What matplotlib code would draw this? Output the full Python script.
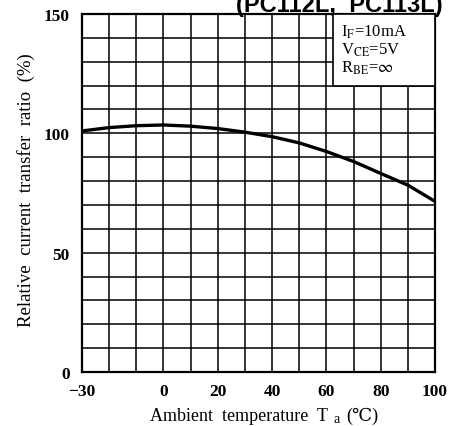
import matplotlib
matplotlib.use("Agg")
import matplotlib.pyplot as plt
from matplotlib.patches import Rectangle

# Ambient temperature (deg C) and relative current transfer ratio (%)
temperature = [-30, -20, -10, 0, 10, 20, 30, 40, 50, 60, 70, 80, 90, 100]
ctr_ratio = [101.0, 102.4, 103.2, 103.5, 103.0, 102.0, 100.5, 98.6, 96.0, 92.4, 88.2, 83.2, 78.3, 71.5]

x_major = [-30, 0, 20, 40, 60, 80, 100]
x_labels = ["\u221230", "0", "20", "40", "60", "80", "100"]
y_major = [0, 50, 100, 150]
y_labels = ["0", "50", "100", "150"]

conditions = [r"I$_{\mathrm{F}}$=10mA", r"V$_{\mathrm{CE}}$=5V", r"R$_{\mathrm{BE}}$=$\infty$"]

plt.rcParams["mathtext.fontset"] = "stix"
serif = ["Liberation Serif", "DejaVu Serif", "DejaVu Sans"]

W, H = 449, 427
fig = plt.figure(figsize=(W / 100, H / 100), dpi=100)
ax = fig.add_axes([82 / W, 1 - 373 / H, (435 - 82) / W, (373 - 15) / H])

ax.set_xlim(-30, 100)
ax.set_ylim(0, 150)
ax.set_xticks(x_major)
ax.set_xticklabels(x_labels)
ax.set_xticks(range(-30, 101, 10), minor=True)
ax.set_yticks(y_major)
ax.set_yticklabels(y_labels)
ax.set_yticks(range(0, 151, 10), minor=True)
ax.grid(True, which="both", color="black", linewidth=1.1)
ax.set_axisbelow(True)
ax.tick_params(which="both", length=0)
ax.tick_params(axis="x", pad=8)
ax.tick_params(axis="y", pad=9)
for lab in ax.get_xticklabels() + ax.get_yticklabels():
    lab.set_fontfamily(serif)
    lab.set_fontweight("bold")
    lab.set_fontsize(12.5)
for s in ax.spines.values():
    s.set_linewidth(1.6)
    s.set_color("black")

ax.plot(temperature, ctr_ratio, color="black", linewidth=2.4, zorder=3, solid_capstyle="butt")

# Measurement conditions box in the upper right corner
ax.add_patch(Rectangle((62.5, 120), 37.5, 30, facecolor="white", edgecolor="black",
                       linewidth=1.2, zorder=4))
for i, txt in enumerate(conditions):
    ax.text(65.3, 141.0 - i * 7.5, txt, fontsize=12, family=serif, va="baseline",
            ha="left", zorder=5)

# Axis titles
fig.text(26 / W, 1 - 190 / H, "Relative  current  transfer  ratio  (%)", family=serif,
         fontsize=13.5, rotation=90, ha="center", va="center")
fig.text(150 / W, 1 - 421 / H, "Ambient  temperature  T", family=serif, fontsize=13,
         ha="left", va="baseline")
fig.text(334 / W, 1 - 423.5 / H, "a", family=serif, fontsize=10, ha="left", va="baseline")
fig.text(346 / W, 1 - 421 / H, "(\u2103)", family=serif, fontsize=13, ha="left", va="baseline")

fig.text(443 / W, 1 - 12 / H, "(PC112L,  PC113L)", ha="right", va="baseline",
         fontsize=17, fontweight="bold", family="Liberation Sans")

fig.savefig("out.png", dpi=100, facecolor="white")
